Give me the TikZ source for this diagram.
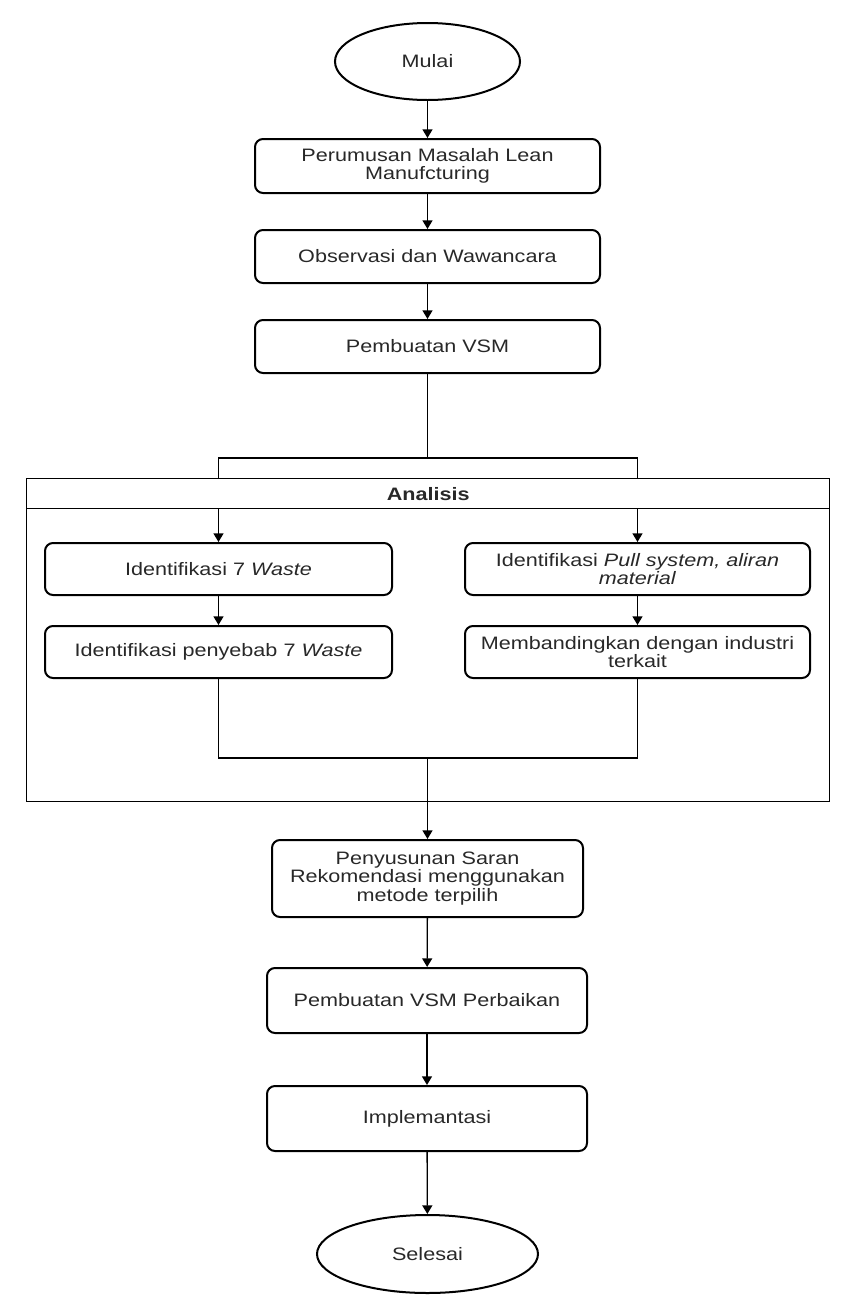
\documentclass[tikz,border=0pt]{standalone}
\usepackage{fontspec}
\setmainfont{Liberation Sans}[FakeStretch=1.2]
\usetikzlibrary{shapes.geometric,arrows.meta}
\definecolor{txt}{RGB}{40,40,40}
\begin{document}
\begin{tikzpicture}[x=0.75pt,y=-0.75pt,
  every node/.style={text=txt, font=\fontsize{13.5}{14}\selectfont, align=center, inner sep=0pt},
  stepbox/.style={draw=black, line width=1.5pt, rounded corners=6pt},
  term/.style={draw=black, ellipse, line width=1.5pt},
  conn/.style={draw=black, line width=1pt},
  arr/.style={draw=black, line width=1pt, -{Triangle[width=7.5pt,length=6.5pt]}},
  frame/.style={draw=black, line width=1pt}
]
\useasboundingbox (0,0) rectangle (851,1300);

\node[term, minimum width=138.75pt, minimum height=57.75pt] (mulai) at (427.5,61.5) {Mulai};
\node[stepbox, minimum width=258.75pt, minimum height=40.5pt] (b1) at (427.5,166) {Perumusan Masalah Lean\\Manufcturing};
\node[stepbox, minimum width=258.75pt, minimum height=39.75pt] (b2) at (427.5,256.5) {Observasi dan Wawancara};
\node[stepbox, minimum width=258.75pt, minimum height=39.75pt] (b3) at (427.5,346.5) {Pembuatan VSM};

\node[frame, minimum width=602.25pt, minimum height=242.25pt, anchor=north west] (anabox) at (26,478) {};
\node[frame, minimum width=602.25pt, minimum height=22.5pt, anchor=north west, font=\fontsize{13.5}{14}\selectfont\bfseries] (anahead) at (26,478) {Analisis};

\node[stepbox, minimum width=260.25pt, minimum height=39pt] (l1) at (218.5,569) {Identifikasi 7 \textit{Waste}};
\node[stepbox, minimum width=260.25pt, minimum height=39pt] (l2) at (218.5,652) {Identifikasi penyebab 7 \textit{Waste}};
\node[stepbox, minimum width=258.75pt, minimum height=39pt] (r1) at (637.5,569) {Identifikasi \textit{Pull system, aliran}\\\textit{material}};
\node[stepbox, minimum width=258.75pt, minimum height=39pt] (r2) at (637.5,652) {Membandingkan dengan industri\\terkait};

\node[stepbox, minimum width=233.25pt, minimum height=57.75pt] (p1) at (427.5,878.5) {Penyusunan Saran\\Rekomendasi menggunakan\\metode terpilih};
\node[stepbox, minimum width=240pt, minimum height=48.75pt] (p2) at (427,1000.5) {Pembuatan VSM Perbaikan};
\node[stepbox, minimum width=240pt, minimum height=48.75pt] (p3) at (427,1118.5) {Implemantasi};
\node[term, minimum width=165.75pt, minimum height=58.5pt] (selesai) at (427.5,1254) {Selesai};

\draw[arr] (mulai) -- (b1);
\draw[arr] (b1) -- (b2);
\draw[arr] (b2) -- (b3);

\coordinate (spl) at (218.5,458);
\coordinate (spr) at (637.5,458);
\draw[conn] (b3.south) -- (b3.south |- spl);
\draw[conn] (spl |- anahead.north) -- (spl) -- (spr) -- (spr |- anahead.north);
\draw[arr] (l1.north |- anahead.south) -- (l1.north);
\draw[arr] (r1.north |- anahead.south) -- (r1.north);
\draw[arr] (l1) -- (l2);
\draw[arr] (r1) -- (r2);

\coordinate (jl) at (218.5,758);
\draw[conn] (l2.south) -- (l2.south |- jl) -- (r2.south |- jl) -- (r2.south);
\draw[arr] (p1.north |- jl) -- (p1.north);
\draw[arr] (p1) -- (p2);
\draw[arr] (p2) -- (p3);
\draw[arr] (p3) -- (selesai);
\end{tikzpicture}
\end{document}
